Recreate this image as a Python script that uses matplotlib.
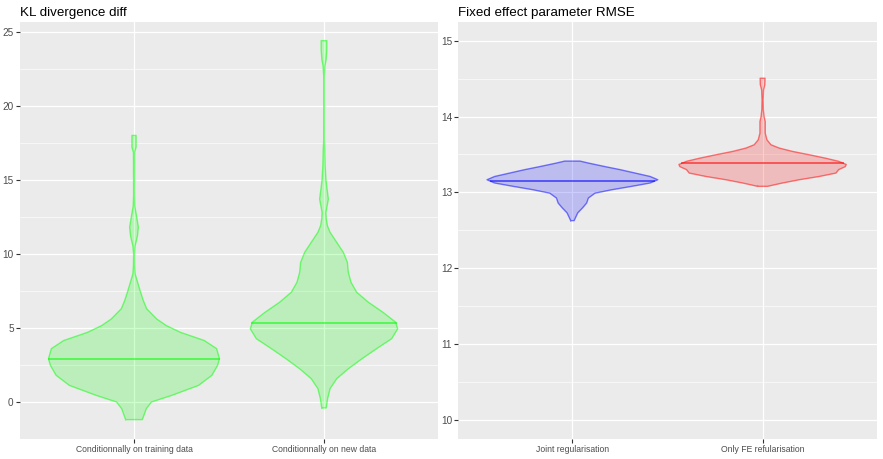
import matplotlib.pyplot as plt
import numpy as np

plt.rcParams['font.family'] = ['Liberation Sans', 'DejaVu Sans']

# panel 1: KL divergence diff, violin outlines
# (value, half-width in category units)
kl_labels = ['Conditionnally on training data', 'Conditionnally on new data']
kl_train_y = [-1.19, -0.45, 0.0, 0.45, 1.12, 1.8, 2.47, 2.92, 3.6, 4.15, 4.7, 5.16,
              5.6, 6.29, 6.85, 7.4, 8.08, 8.65, 9.2, 10.0, 10.55, 11.2, 11.8, 12.5,
              13.25, 14.0, 16.85, 17.2, 18.0]
kl_train_w = [0.044, 0.065, 0.092, 0.2, 0.34, 0.41, 0.44, 0.45, 0.435, 0.37, 0.245, 0.17,
              0.12, 0.067, 0.049, 0.035, 0.019, 0.006, 0.003, 0.002, 0.006, 0.018, 0.023, 0.014,
              0.004, 0.002, 0.003, 0.011, 0.011]
kl_train_med = 2.87

kl_new_y = [-0.40, 0.22, 0.9, 1.57, 2.24, 2.92, 3.6, 4.27, 4.94, 5.39, 6.06, 6.74,
            7.41, 8.09, 8.76, 9.43, 10.1, 10.78, 11.46, 11.9, 12.35, 12.8, 13.7, 14.6,
            15.05, 15.95, 17.07, 17.74, 19.0, 21.8, 22.7, 23.1, 23.8, 24.4]
kl_new_w = [0.012, 0.019, 0.032, 0.067, 0.128, 0.2, 0.277, 0.356, 0.388, 0.377, 0.31, 0.233,
            0.172, 0.142, 0.128, 0.123, 0.102, 0.067, 0.032, 0.018, 0.012, 0.01, 0.023, 0.014,
            0.01, 0.006, 0.004, 0.001, 0.0005, 0.0005, 0.005, 0.011, 0.015, 0.015]
kl_new_med = 5.32

# panel 2: fixed effect parameter RMSE
fe_labels = ['Joint regularisation', 'Only FE refularisation']
fe_joint_y = [12.628, 12.73, 12.795, 12.86, 12.926, 12.99, 13.035, 13.08, 13.124, 13.167,
              13.21, 13.255, 13.3, 13.34, 13.387, 13.413]
fe_joint_w = [0.009, 0.028, 0.053, 0.075, 0.084, 0.119, 0.207, 0.312, 0.409, 0.449,
              0.409, 0.33, 0.251, 0.172, 0.084, 0.04]
fe_joint_med = 13.145

fe_only_y = [13.08, 13.124, 13.167, 13.21, 13.255, 13.3, 13.34, 13.368, 13.41, 13.45, 13.496,
             13.54, 13.584, 13.628, 13.693, 13.78, 13.87, 13.934, 14.0, 14.09, 14.22,
             14.35, 14.42, 14.505]
fe_only_w = [0.026, 0.105, 0.193, 0.298, 0.386, 0.4, 0.435, 0.44, 0.4, 0.333, 0.246,
             0.158, 0.088, 0.044, 0.023, 0.014, 0.014, 0.014, 0.008, 0.004, 0.003,
             0.005, 0.012, 0.013]
fe_only_med = 13.387


def violin(ax, pos, ys, ws, med, color):
    ys = np.array(ys)
    ws = np.array(ws)
    ax.fill_betweenx(ys, pos - ws, pos + ws, facecolor=color, alpha=0.2, lw=0, zorder=2)
    xs = np.concatenate([pos - ws, (pos + ws)[::-1], [pos - ws[0]]])
    yy = np.concatenate([ys, ys[::-1], [ys[0]]])
    ax.plot(xs, yy, color=color, alpha=0.5, lw=1, zorder=3)
    mw = np.interp(med, ys, ws)
    ax.plot([pos - mw, pos + mw], [med, med], color=color, alpha=0.55, lw=1.4, zorder=3)


def style(ax, title, labels, ylim, major, minor):
    ax.set_facecolor('#EBEBEB')
    for s in ax.spines.values():
        s.set_visible(False)
    ax.set_xlim(0.4, 2.6)
    ax.set_ylim(*ylim)
    ax.set_xticks([1, 2])
    ax.set_xticklabels(labels)
    ax.set_yticks(major)
    ax.set_yticks(minor, minor=True)
    ax.grid(True, which='major', color='white', lw=0.9, zorder=0)
    ax.grid(True, which='minor', axis='y', color='white', lw=0.45, zorder=0)
    ax.set_axisbelow(True)
    ax.tick_params(axis='both', which='major', length=3, width=0.8, color='#333333',
                   labelcolor='#4D4D4D', pad=1.5)
    ax.tick_params(axis='x', which='major', labelsize=6.2)
    ax.tick_params(axis='y', which='major', labelsize=7.2)
    ax.tick_params(axis='both', which='minor', length=0)
    ax.set_title(title, loc='left', fontsize=9.6, pad=4)


fig = plt.figure(figsize=(8.83, 4.59), dpi=100)
ax1 = fig.add_axes([20 / 883, 20 / 459, 418 / 883, 417.3 / 459])
ax2 = fig.add_axes([458.3 / 883, 20 / 459, 418.4 / 883, 417.3 / 459])

violin(ax1, 1, kl_train_y, kl_train_w, kl_train_med, '#00FF00')
violin(ax1, 2, kl_new_y, kl_new_w, kl_new_med, '#00FF00')
style(ax1, 'KL divergence diff', kl_labels, (-2.48, 25.68),
      [0, 5, 10, 15, 20, 25], [-2.5, 2.5, 7.5, 12.5, 17.5, 22.5])

violin(ax2, 1, fe_joint_y, fe_joint_w, fe_joint_med, '#0000FF')
violin(ax2, 2, fe_only_y, fe_only_w, fe_only_med, '#FF0000')
style(ax2, 'Fixed effect parameter RMSE', fe_labels, (9.75, 15.25),
      [10, 11, 12, 13, 14, 15], [10.5, 11.5, 12.5, 13.5, 14.5])

fig.savefig('out.png', dpi=100)
